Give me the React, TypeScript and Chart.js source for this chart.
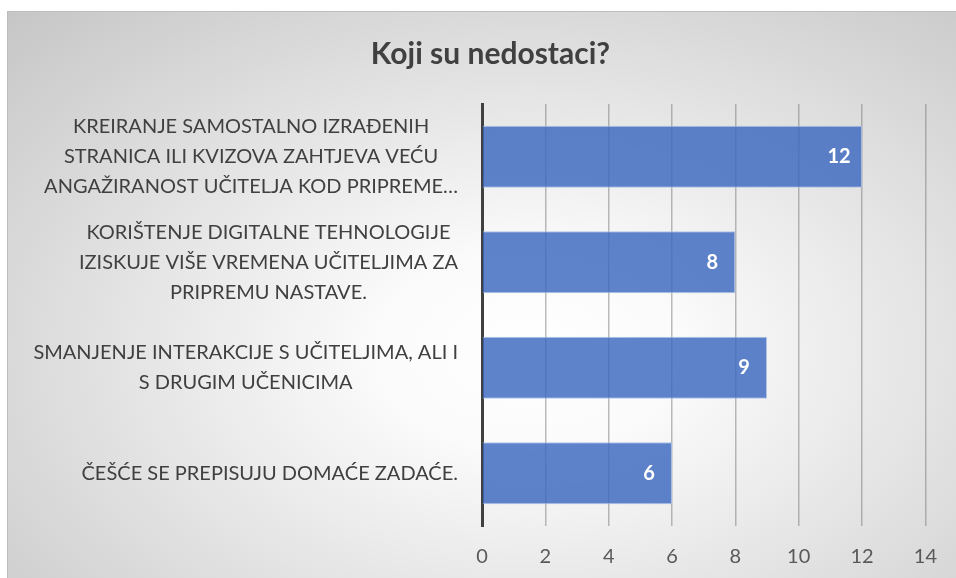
import React, { useEffect, useRef } from "react";
import { Chart, registerables } from "chart.js";

Chart.register(...registerables);

const title = "Koji su nedostaci?";
const categories: string[][] = [
  ["KREIRANJE SAMOSTALNO IZRAĐENIH", "STRANICA ILI KVIZOVA ZAHTJEVA VEĆU", "ANGAŽIRANOST UČITELJA KOD PRIPREME…"],
  ["KORIŠTENJE DIGITALNE TEHNOLOGIJE", "IZISKUJE VIŠE VREMENA UČITELJIMA ZA", "PRIPREMU NASTAVE."],
  ["SMANJENJE INTERAKCIJE S UČITELJIMA, ALI I", "S DRUGIM UČENICIMA"],
  ["ČEŠĆE SE PREPISUJU DOMAĆE ZADAĆE."],
];
const values: number[] = [12, 8, 9, 6];
const xMin = 0;
const xMax = 14;
const xStep = 2;

const FONT = "Lato, 'Open Sans', sans-serif";

const yLabelPlugin = {
  id: "yLabels",
  afterDraw(chart: any) {
    const { ctx, chartArea } = chart;
    const yScale = chart.scales.y;
    ctx.save();
    ctx.font = `20px ${FONT}`;
    ctx.fillStyle = "#404040";
    ctx.textBaseline = "middle";
    ctx.textAlign = "center";
    const lh = 30;
    categories.forEach((lines, i) => {
      const yc = yScale.getPixelForTick(i);
      const maxW = Math.max(...lines.map((l) => ctx.measureText(l).width));
      const right = chartArea.left - 24;
      const cx = right - maxW / 2;
      const y0 = yc - ((lines.length - 1) * lh) / 2;
      lines.forEach((l, j) => ctx.fillText(l, cx, y0 + j * lh));
    });
    ctx.restore();
  },
};

const dataLabelPlugin = {
  id: "dataLabels",
  afterDatasetsDraw(chart: any) {
    const { ctx } = chart;
    const meta = chart.getDatasetMeta(0);
    ctx.save();
    ctx.font = `bold 20px ${FONT}`;
    ctx.fillStyle = "#ffffff";
    ctx.textAlign = "center";
    ctx.textBaseline = "middle";
    meta.data.forEach((bar: any, i: number) => {
      ctx.fillText(String(values[i]), bar.x - 23, bar.y);
    });
    ctx.restore();
  },
};

export default function App() {
  const ref = useRef<HTMLCanvasElement | null>(null);
  useEffect(() => {
    if (!ref.current) return;
    const chart = new Chart(ref.current, {
      type: "bar",
      data: {
        labels: categories.map((c) => c.join(" ")),
        datasets: [
          {
            data: values,
            backgroundColor: "rgba(59,104,190,0.82)",
            borderColor: "rgba(170,192,230,0.9)",
            borderWidth: 1,
            categoryPercentage: 1,
            barPercentage: 0.59,
          },
        ],
      },
      options: {
        indexAxis: "y",
        animation: false,
        responsive: true,
        maintainAspectRatio: false,
        layout: { padding: { left: 47, right: 30, top: 0, bottom: 10 } },
        plugins: {
          legend: { display: false },
          tooltip: { enabled: false },
          title: {
            display: true,
            text: title,
            color: "#404040",
            font: { family: FONT, size: 30, weight: "bold", lineHeight: 1.2 },
            padding: { top: 24, bottom: 32 },
          },
        },
        scales: {
          x: {
            min: xMin,
            max: xMax,
            ticks: {
              stepSize: xStep,
              color: "#595959",
              font: { family: FONT, size: 20 },
              padding: 19,
            },
            grid: { color: "rgba(120,120,120,0.5)", lineWidth: 1.5, drawTicks: false },
            border: { display: false },
            afterFit(scale: any) {
              scale.height = 42;
            },
          },
          y: {
            ticks: { display: false },
            grid: { display: true, color: "transparent", drawTicks: false },
            border: { display: true, color: "#404040", width: 3 },
            afterFit(scale: any) {
              scale.width = 427;
            },
          },
        },
      },
      plugins: [yLabelPlugin, dataLabelPlugin],
    });
    return () => chart.destroy();
  }, []);

  return (
    <div
      style={{
        position: "absolute",
        left: 7,
        top: 11,
        width: 949,
        height: 567,
        boxSizing: "border-box",
        borderTop: "1px solid #bdbdbd",
        borderLeft: "1px solid #bdbdbd",
        background:
          "radial-gradient(ellipse farthest-corner at 55% 60%, #ffffff 0%, #fbfbfb 20%, #c6c6c6 100%)",
      }}
    >
      <canvas ref={ref} />
    </div>
  );
}
